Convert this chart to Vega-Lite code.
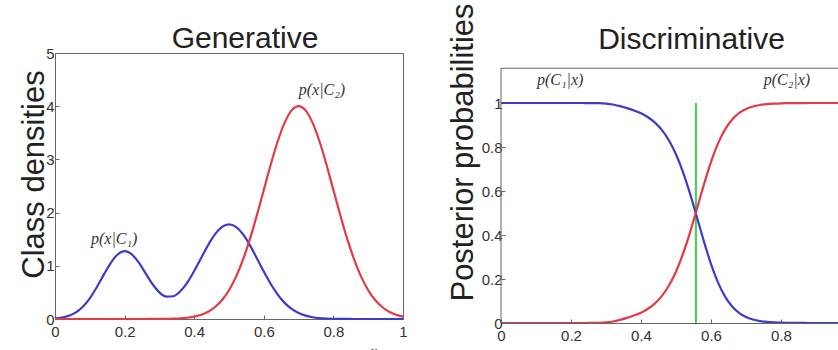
{
  "$schema": "https://vega.github.io/schema/vega-lite/v6.json",
  "autosize": {"type": "none"},
  "padding": {"left": 55, "top": 53, "right": 783, "bottom": 297},
  "background": "white",
  "bounds": "flush",
  "spacing": 98,
  "config": {
    "font": "Liberation Sans",
    "view": {"stroke": "#666", "strokeWidth": 1},
    "axis": {"grid": false, "labelFont": "Liberation Sans", "labelFontSize": 15, "labelColor": "#333", "domainColor": "#666", "tickColor": "#666", "tickSize": -4, "labelPadding": 5, "titleFont": "Liberation Sans", "titleFontWeight": "normal", "titleColor": "#222"},
    "title": {"font": "Liberation Sans", "fontSize": 30, "fontWeight": "normal", "color": "#222", "frame": "group", "baseline": "alphabetic", "offset": 5},
    "line": {"strokeWidth": 2.2, "interpolate": "monotone"},
    "text": {"font": "Liberation Serif", "fontStyle": "italic", "fontSize": 16, "color": "#333"}
  },
  "datasets": {
    "curves": [
      {"x": 0.00, "d1": 0.011, "d2": 0, "p1": 1, "p2": 0},
      {"x": 0.02, "d1": 0.028, "d2": 0, "p1": 1, "p2": 0},
      {"x": 0.04, "d1": 0.061, "d2": 0, "p1": 1, "p2": 0},
      {"x": 0.06, "d1": 0.125, "d2": 0, "p1": 1, "p2": 0},
      {"x": 0.08, "d1": 0.231, "d2": 0, "p1": 1, "p2": 0},
      {"x": 0.10, "d1": 0.389, "d2": 0, "p1": 1, "p2": 0},
      {"x": 0.12, "d1": 0.596, "d2": 0, "p1": 1, "p2": 0},
      {"x": 0.14, "d1": 0.830, "d2": 0, "p1": 1, "p2": 0},
      {"x": 0.16, "d1": 1.052, "d2": 0, "p1": 1, "p2": 0},
      {"x": 0.18, "d1": 1.213, "d2": 0, "p1": 1, "p2": 0},
      {"x": 0.20, "d1": 1.274, "d2": 0, "p1": 1, "p2": 0},
      {"x": 0.22, "d1": 1.219, "d2": 0, "p1": 1, "p2": 0},
      {"x": 0.24, "d1": 1.068, "d2": 0, "p1": 0.9999, "p2": 0.0001},
      {"x": 0.26, "d1": 0.863, "d2": 0, "p1": 0.9997, "p2": 0.0003},
      {"x": 0.28, "d1": 0.658, "d2": 0.001, "p1": 0.9991, "p2": 0.0009},
      {"x": 0.30, "d1": 0.501, "d2": 0.001, "p1": 0.9973, "p2": 0.0027},
      {"x": 0.32, "d1": 0.420, "d2": 0.003, "p1": 0.9931, "p2": 0.0069},
      {"x": 0.34, "d1": 0.428, "d2": 0.006, "p1": 0.9859, "p2": 0.0141},
      {"x": 0.36, "d1": 0.520, "d2": 0.012, "p1": 0.9768, "p2": 0.0232},
      {"x": 0.38, "d1": 0.685, "d2": 0.024, "p1": 0.9663, "p2": 0.0337},
      {"x": 0.40, "d1": 0.902, "d2": 0.044, "p1": 0.9531, "p2": 0.0469},
      {"x": 0.42, "d1": 1.147, "d2": 0.079, "p1": 0.9352, "p2": 0.0648},
      {"x": 0.44, "d1": 1.389, "d2": 0.136, "p1": 0.9107, "p2": 0.0893},
      {"x": 0.46, "d1": 1.594, "d2": 0.225, "p1": 0.8765, "p2": 0.1235},
      {"x": 0.48, "d1": 1.731, "d2": 0.356, "p1": 0.8294, "p2": 0.1706},
      {"x": 0.50, "d1": 1.780, "d2": 0.541, "p1": 0.7669, "p2": 0.2331},
      {"x": 0.52, "d1": 1.731, "d2": 0.792, "p1": 0.6861, "p2": 0.3139},
      {"x": 0.54, "d1": 1.594, "d2": 1.112, "p1": 0.5891, "p2": 0.4109},
      {"x": 0.56, "d1": 1.388, "d2": 1.501, "p1": 0.4804, "p2": 0.5196},
      {"x": 0.58, "d1": 1.143, "d2": 1.947, "p1": 0.3699, "p2": 0.6301},
      {"x": 0.60, "d1": 0.891, "d2": 2.426, "p1": 0.2686, "p2": 0.7314},
      {"x": 0.62, "d1": 0.657, "d2": 2.905, "p1": 0.1845, "p2": 0.8155},
      {"x": 0.64, "d1": 0.459, "d2": 3.341, "p1": 0.1208, "p2": 0.8792},
      {"x": 0.66, "d1": 0.303, "d2": 3.692, "p1": 0.0758, "p2": 0.9242},
      {"x": 0.68, "d1": 0.189, "d2": 3.921, "p1": 0.0460, "p2": 0.9540},
      {"x": 0.70, "d1": 0.112, "d2": 4.000, "p1": 0.0272, "p2": 0.9728},
      {"x": 0.72, "d1": 0.063, "d2": 3.921, "p1": 0.0157, "p2": 0.9843},
      {"x": 0.74, "d1": 0.033, "d2": 3.692, "p1": 0.0089, "p2": 0.9911},
      {"x": 0.76, "d1": 0.017, "d2": 3.341, "p1": 0.0049, "p2": 0.9951},
      {"x": 0.78, "d1": 0.008, "d2": 2.905, "p1": 0.0027, "p2": 0.9973},
      {"x": 0.80, "d1": 0.004, "d2": 2.426, "p1": 0.0014, "p2": 0.9986},
      {"x": 0.82, "d1": 0.002, "d2": 1.947, "p1": 0.0008, "p2": 0.9992},
      {"x": 0.84, "d1": 0.001, "d2": 1.501, "p1": 0.0004, "p2": 0.9996},
      {"x": 0.86, "d1": 0, "d2": 1.112, "p1": 0.0002, "p2": 0.9998},
      {"x": 0.88, "d1": 0, "d2": 0.792, "p1": 0, "p2": 1},
      {"x": 0.90, "d1": 0, "d2": 0.541, "p1": 0, "p2": 1},
      {"x": 0.92, "d1": 0, "d2": 0.356, "p1": 0, "p2": 1},
      {"x": 0.94, "d1": 0, "d2": 0.225, "p1": 0, "p2": 1},
      {"x": 0.96, "d1": 0, "d2": 0.136, "p1": 0, "p2": 1},
      {"x": 0.98, "d1": 0, "d2": 0.079, "p1": 0, "p2": 1},
      {"x": 1.00, "d1": 0, "d2": 0.044, "p1": 0, "p2": 1}
    ],
    "genLabels": [
      {"x": 0.17, "y": 1.5, "label": "p(x|C₁)"},
      {"x": 0.767, "y": 4.3, "label": "p(x|C₂)"}
    ],
    "discLabels": [
      {"x": 0.169, "y": 1.103, "label": "p(C₁|x)"},
      {"x": 0.817, "y": 1.103, "label": "p(C₂|x)"}
    ],
    "boundary": [
      {"xb": 0.557, "lo": 0, "hi": 1}
    ]
  },
  "hconcat": [
    {
      "width": 348,
      "height": 266,
      "title": {"text": "Generative", "dx": 16, "dy": 13},
      "encoding": {
        "x": {"field": "x", "type": "quantitative", "scale": {"domain": [0, 1], "nice": false},
          "axis": {"values": [0, 0.2, 0.4, 0.6, 0.8, 1], "format": "~g", "labelFlush": false, "labelPadding": 9, "title": "x", "titleFont": "Liberation Serif", "titleFontStyle": "italic", "titleFontSize": 15, "titleX": 318, "titleY": 24, "titleBaseline": "top", "titleAlign": "center"}},
        "y": {"field": "d1", "type": "quantitative", "scale": {"domain": [0, 5], "nice": false},
          "axis": {"values": [0, 1, 2, 3, 4, 5], "format": "~g", "title": "Class densities", "titleFontSize": 31, "titleAngle": -90, "titleX": -12, "titleY": 121, "titleAlign": "center", "titleBaseline": "alphabetic"}}
      },
      "layer": [
        {"data": {"name": "curves"}, "mark": {"type": "line", "color": "#3c3cc8"}},
        {"data": {"name": "curves"}, "mark": {"type": "line", "color": "#e23a46"}, "encoding": {"y": {"field": "d2", "type": "quantitative"}}},
        {"data": {"name": "genLabels"}, "mark": {"type": "text"}, "encoding": {"y": {"field": "y", "type": "quantitative"}, "text": {"field": "label"}}}
      ]
    },
    {
      "width": 337,
      "height": 270,
      "view": {"stroke": null},
      "title": {"text": "Discriminative", "dx": 22, "dy": 57},
      "layer": [
        {"data": {"name": "boundary"}, "mark": {"type": "rule", "color": "#3cd24a", "strokeWidth": 2},
          "encoding": {
            "x": {"field": "xb", "type": "quantitative", "title": "x"},
            "y": {"field": "lo", "type": "quantitative", "title": "Posterior probabilities"},
            "y2": {"field": "hi"}}},
        {"data": {"name": "curves"}, "mark": {"type": "line", "color": "#3c3cc8", "clip": true},
          "encoding": {
            "x": {"field": "x", "type": "quantitative", "scale": {"domain": [0, 0.963], "nice": false},
              "axis": {"values": [0, 0.2, 0.4, 0.6, 0.8], "format": "~g", "labelFlush": false, "labelPadding": 9, "title": "x", "titleFont": "Liberation Serif", "titleFontStyle": "italic", "titleFontSize": 15, "titleX": 319, "titleY": 22, "titleBaseline": "top", "titleAlign": "center"}},
            "y": {"field": "p1", "type": "quantitative", "scale": {"domain": [0, 1.2273], "nice": false},
              "axis": {"values": [0, 0.2, 0.4, 0.6, 0.8, 1], "format": "~g", "domain": false, "labelPadding": 3, "title": "Posterior probabilities", "titleFontSize": 31, "titleAngle": -90, "titleX": -29, "titleY": 99, "titleAlign": "center", "titleBaseline": "alphabetic"}}}},
        {"data": {"name": "curves"}, "mark": {"type": "line", "color": "#e23a46", "clip": true},
          "encoding": {
            "x": {"field": "x", "type": "quantitative", "title": "x"},
            "y": {"field": "p2", "type": "quantitative", "title": "Posterior probabilities"}}},
        {"data": {"name": "boundary"}, "mark": {"type": "rule", "color": "#666", "strokeWidth": 1},
          "encoding": {
            "x": {"datum": 0, "type": "quantitative"},
            "y": {"datum": 0, "type": "quantitative"},
            "y2": {"datum": 1.158}}},
        {"data": {"name": "boundary"}, "mark": {"type": "rule", "color": "#666", "strokeWidth": 1},
          "encoding": {
            "x": {"datum": 0, "type": "quantitative"},
            "x2": {"datum": 0.963},
            "y": {"datum": 1.158, "type": "quantitative"}}},
        {"data": {"name": "discLabels"}, "mark": {"type": "text"},
          "encoding": {
            "x": {"field": "x", "type": "quantitative", "title": "x"},
            "y": {"field": "y", "type": "quantitative", "title": "Posterior probabilities"},
            "text": {"field": "label"}}}
      ]
    }
  ]
}
